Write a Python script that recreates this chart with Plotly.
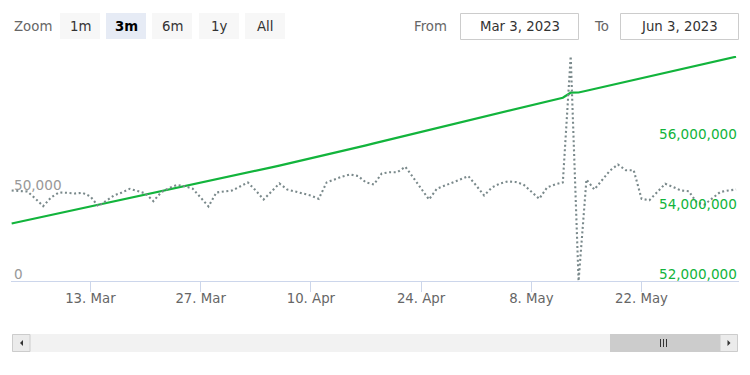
import pandas as pd
import plotly.graph_objects as go

# ---------------- data ----------------
dates = pd.date_range("2023-03-03", periods=93, freq="D")

daily_count = [
    51130, 50850, 50570, 46620, 42270, 47180, 50000, 49830, 49440, 49830,
    47750, 42270, 45490, 48310, 50000, 52100, 50850, 49440, 45090, 50180,
    52550, 54240, 53560, 52100, 47180, 42090, 50000, 50570, 51130, 53390,
    55660, 51130, 46050, 50570, 55090, 51700, 50570, 49720, 48310, 46440,
    55660, 57350, 59050, 60180, 59330, 55660, 54530, 60740, 61480, 61480,
    64530, 58480, 52260, 46050, 52100, 53960, 55660, 57350, 59220, 53960,
    48310, 52830, 55090, 56220, 55940, 54530, 50570, 46440, 52830, 54530,
    55660, 127020, 0, 57350, 51700, 57350, 62430, 65830, 62610, 62610,
    46440, 45650, 50570, 54920, 53120, 51130, 50740, 44350, 43220, 46620,
    50290, 51130, 51700,
]

cumulative_total = [
    53643000, 53691000, 53739000, 53787000, 53835000, 53883000, 53931000, 53979000, 54027000, 54075000,
    54123000, 54171000, 54219000, 54267000, 54315000, 54363000, 54411000, 54459000, 54507000, 54555000,
    54603000, 54651000, 54699000, 54747000, 54795000, 54843000, 54894000, 54944000, 54995000, 55045000,
    55096000, 55147000, 55197000, 55248000, 55298000, 55349000, 55400000, 55450000, 55501000, 55551000,
    55605000, 55660000, 55714000, 55769000, 55823000, 55877000, 55932000, 55986000, 56041000, 56095000,
    56149000, 56204000, 56258000, 56312000, 56367000, 56421000, 56476000, 56530000, 56584000, 56639000,
    56693000, 56747000, 56802000, 56856000, 56911000, 56965000, 57019000, 57074000, 57128000, 57183000,
    57237000, 57380000, 57386000, 57437000, 57488000, 57540000, 57591000, 57642000, 57693000, 57744000,
    57796000, 57847000, 57898000, 57949000, 58000000, 58052000, 58103000, 58154000, 58205000, 58256000,
    58307000, 58358000, 58409000,
]

x_tick_dates = ["2023-03-13", "2023-03-27", "2023-04-10", "2023-04-24", "2023-05-08", "2023-05-22"]
x_tick_labels = ["13. Mar", "27. Mar", "10. Apr", "24. Apr", "8. May", "22. May"]

left_tick_vals = [0, 50000]
left_tick_labels = ["0", "50,000"]
right_tick_vals = [52000000, 54000000, 56000000]
right_tick_labels = ["52,000,000", "54,000,000", "56,000,000"]

zoom_buttons = ["1m", "3m", "6m", "1y", "All"]
selected_button = "3m"
from_text = "Mar 3, 2023"
to_text = "Jun 3, 2023"

# ---------------- styling / geometry ----------------
GREEN = "#12b43c"
GRAY = "#7a898b"
FONT = "DejaVu Sans"
OFF = 8                      # page offset of the plot div (browser body margin)
W, H = 750 - OFF, 375 - OFF  # figure size that fits the window
PLOT_L, PLOT_R, PLOT_T, PLOT_B = 11, 739, 56, 281   # plot area in page pixels
L, T = PLOT_L - OFF, PLOT_T - OFF
R, B = W - (PLOT_R - OFF), H - (PLOT_B - OFF)
PW = PLOT_R - PLOT_L
PH = PLOT_B - PLOT_T


def px(x):  # page pixel -> paper x
    return (x - PLOT_L) / PW


def py(y):  # page pixel -> paper y
    return (PLOT_B - y) / PH


fig = go.Figure()
fig.add_trace(go.Scatter(
    x=dates, y=cumulative_total, mode="lines", yaxis="y",
    line=dict(color=GREEN, width=2.2), hoverinfo="skip",
))
fig.add_trace(go.Scatter(
    x=dates, y=daily_count, mode="lines", yaxis="y2",
    line=dict(color=GRAY, width=2.1, dash="2px,2.6px"), hoverinfo="skip",
))

shapes = []
annotations = []

# y-axis labels, drawn just above their tick value inside the plot (Highstock style)
for v, t in zip(left_tick_vals, left_tick_labels):
    annotations.append(dict(xref="paper", yref="y2", x=0, y=v, text=t, showarrow=False,
                            xanchor="left", yanchor="bottom", xshift=1, yshift=-2.5,
                            font=dict(family=FONT, size=13.6, color="#999999")))
for v, t in zip(right_tick_vals, right_tick_labels):
    annotations.append(dict(xref="paper", yref="y", x=1, y=v, text=t, showarrow=False,
                            xanchor="right", yanchor="bottom", xshift=0, yshift=-2.5,
                            font=dict(family=FONT, size=13.6, color=GREEN)))

# range selector buttons
btn_x = [60, 106, 152, 199, 245]
for label, bx in zip(zoom_buttons, btn_x):
    sel = label == selected_button
    shapes.append(dict(type="rect", xref="paper", yref="paper",
                       x0=px(bx), x1=px(bx + 40), y0=py(39), y1=py(13),
                       fillcolor="#e6ebf5" if sel else "#f7f7f7", line=dict(width=0), layer="below"))
    annotations.append(dict(xref="paper", yref="paper", x=px(bx + 20), y=py(26),
                            text=f"<b>{label}</b>" if sel else label, showarrow=False,
                            xanchor="center", yanchor="middle",
                            font=dict(family=FONT, size=13.3, color="#000000" if sel else "#333333")))
annotations.append(dict(xref="paper", yref="paper", x=px(12), y=py(26), text="Zoom", showarrow=False,
                        xanchor="left", yanchor="middle",
                        font=dict(family=FONT, size=13.3, color="#666666")))

# date inputs
annotations.append(dict(xref="paper", yref="paper", x=px(412), y=py(26), text="From", showarrow=False,
                        xanchor="left", yanchor="middle",
                        font=dict(family=FONT, size=13.3, color="#666666")))
annotations.append(dict(xref="paper", yref="paper", x=px(592), y=py(26), text="To", showarrow=False,
                        xanchor="left", yanchor="middle",
                        font=dict(family=FONT, size=13.3, color="#666666")))
for (x0, x1, txt) in [(460.5, 578.5, from_text), (620.5, 738.5, to_text)]:
    shapes.append(dict(type="rect", xref="paper", yref="paper",
                       x0=px(x0), x1=px(x1), y0=py(39.5), y1=py(13.5),
                       fillcolor="white", line=dict(color="#cccccc", width=1)))
    annotations.append(dict(xref="paper", yref="paper", x=px((x0 + x1) / 2), y=py(26.5), text=txt,
                            showarrow=False, xanchor="center", yanchor="middle",
                            font=dict(family=FONT, size=13.3, color="#333333")))

# scrollbar
shapes.append(dict(type="rect", xref="paper", yref="paper", x0=px(12), x1=px(738), y0=py(352), y1=py(334),
                   fillcolor="#f2f2f2", line=dict(width=0)))
shapes.append(dict(type="rect", xref="paper", yref="paper", x0=px(12.5), x1=px(30), y0=py(351.5), y1=py(334.5),
                   fillcolor="#ebebeb", line=dict(color="#cccccc", width=1)))
shapes.append(dict(type="rect", xref="paper", yref="paper", x0=px(610), x1=px(720), y0=py(352), y1=py(334),
                   fillcolor="#cccccc", line=dict(width=0)))
shapes.append(dict(type="rect", xref="paper", yref="paper", x0=px(720), x1=px(737.5), y0=py(351.5), y1=py(334.5),
                   fillcolor="#ebebeb", line=dict(color="#cccccc", width=1)))
for gx in [660.5, 663.5, 666.5]:
    shapes.append(dict(type="line", xref="paper", yref="paper", x0=px(gx), x1=px(gx), y0=py(347), y1=py(339),
                       line=dict(color="#333333", width=1)))
shapes.append(dict(type="path", xref="paper", yref="paper",
                   path=f"M {px(23)},{py(340)} L {px(23)},{py(346)} L {px(20)},{py(343)} Z",
                   fillcolor="#333333", line=dict(width=0)))
shapes.append(dict(type="path", xref="paper", yref="paper",
                   path=f"M {px(727.5)},{py(340)} L {px(727.5)},{py(346)} L {px(730.5)},{py(343)} Z",
                   fillcolor="#333333", line=dict(width=0)))

fig.update_layout(
    width=W, height=H,
    margin=dict(l=L, r=R, t=T, b=B, pad=0),
    plot_bgcolor="white", paper_bgcolor="white",
    showlegend=False,
    font=dict(family=FONT, size=13, color="#666666"),
    xaxis=dict(
        type="date",
        range=["2023-03-02 22:00", "2023-06-03 09:00"],
        showgrid=False, zeroline=False,
        showline=True, linecolor="#ccd6eb", linewidth=1,
        ticks="outside", ticklen=10, tickcolor="#ccd6eb", tickwidth=1,
        ticklabelstandoff=-5,
        tickvals=x_tick_dates, ticktext=x_tick_labels,
        tickfont=dict(family=FONT, size=13.3, color="#666666"),
        fixedrange=True,
    ),
    yaxis=dict(
        side="right", range=[52000000, 52000000 + PH / 70 * 2000000],
        showgrid=False, zeroline=False, showline=False,
        tickvals=right_tick_vals, showticklabels=False, ticks="",
    ),
    yaxis2=dict(
        side="left", overlaying="y", anchor="x",
        range=[0, PH / 88.5 * 50000],
        showgrid=False, zeroline=False, showline=False,
        tickvals=left_tick_vals, showticklabels=False, ticks="",
    ),
    shapes=shapes,
    annotations=annotations,
)

fig.write_html("out.html")
